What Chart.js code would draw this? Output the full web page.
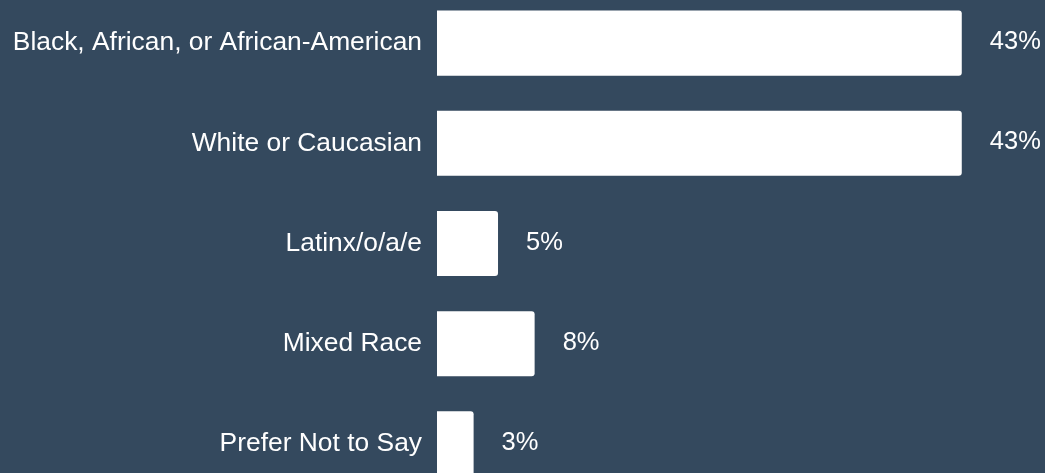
<!DOCTYPE html>
<html>
<head>
<meta charset="utf-8">
<script src="https://cdn.jsdelivr.net/npm/chart.js@4"></script>
<style>
  html, body { margin: 0; padding: 0; background: #34495e; overflow: hidden; width: 1045px; height: 473px; }
  #wrap { position: absolute; left: 0; top: -7px; width: 1045px; height: 501px; }
</style>
</head>
<body>
<div id="wrap"><canvas id="c"></canvas></div>
<script>
const categories = ["Black, African, or African-American", "White or Caucasian", "Latinx/o/a/e", "Mixed Race", "Prefer Not to Say"];
const percentages = [43, 43, 5, 8, 3];

const FONT = 'Arial, "Liberation Sans", sans-serif';
const FONT_SIZE = 26.4;

const valueLabels = {
  id: 'valueLabels',
  afterDatasetsDraw(chart) {
    const ctx = chart.ctx;
    const meta = chart.getDatasetMeta(0);
    ctx.save();
    ctx.font = '25.5px ' + FONT;
    ctx.fillStyle = '#ffffff';
    ctx.textAlign = 'left';
    ctx.textBaseline = 'middle';
    meta.data.forEach((bar, i) => {
      ctx.fillText(percentages[i] + '%', bar.x + 28, bar.y - 1);
    });
    ctx.restore();
  }
};

new Chart(document.getElementById('c'), {
  type: 'bar',
  data: {
    labels: categories,
    datasets: [{
      data: percentages,
      backgroundColor: '#ffffff',
      borderWidth: 0,
      borderRadius: 3,
      borderSkipped: 'start',
      barPercentage: 0.65,
      categoryPercentage: 1.0
    }]
  },
  options: {
    indexAxis: 'y',
    responsive: true,
    maintainAspectRatio: false,
    animation: false,
    layout: { padding: { left: 0, right: 10, top: 0, bottom: 0 } },
    plugins: { legend: { display: false }, tooltip: { enabled: false } },
    scales: {
      x: { display: false, min: 0, max: 49 },
      y: {
        grid: { display: false, drawTicks: false },
        border: { display: false },
        ticks: { color: '#ffffff', font: { family: FONT, size: FONT_SIZE }, padding: 15 },
        afterFit(scale) {
          scale.width = 437;
          scale.paddingTop = 0;
          scale.paddingBottom = 0;
        }
      }
    }
  },
  plugins: [valueLabels]
});
</script>
</body>
</html>
